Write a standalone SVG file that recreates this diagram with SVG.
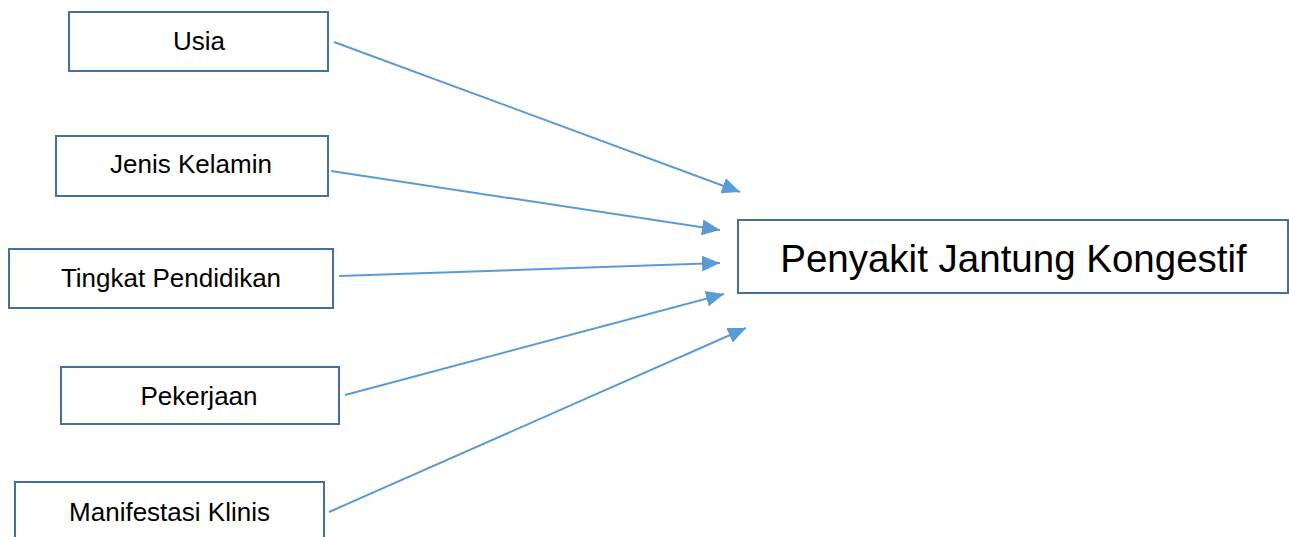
<svg xmlns="http://www.w3.org/2000/svg" width="1289" height="537" viewBox="0 0 1289 537">
<style>
.box{fill:#fff;stroke:#41719C;stroke-width:2}
.lbl{font-family:"Liberation Sans",Arial,sans-serif;font-size:26px;fill:#000;text-anchor:middle}
.big{font-family:"Liberation Sans",Arial,sans-serif;font-size:38.5px;fill:#000;text-anchor:middle}
.con{stroke:#5B9BD5;stroke-width:2;fill:none;marker-end:url(#ah)}
</style>
<defs>
<marker id="ah" markerUnits="userSpaceOnUse" markerWidth="20" markerHeight="16" refX="18" refY="8" orient="auto">
<path d="M0,0 L18,8 L0,16 Z" fill="#5B9BD5"/>
</marker>
</defs>
<rect width="1289" height="537" fill="#fff"/>
<g id="connectors">
<line class="con" x1="334" y1="42" x2="740" y2="192"/>
<line class="con" x1="331" y1="171" x2="720" y2="230"/>
<line class="con" x1="339" y1="276" x2="720" y2="263"/>
<line class="con" x1="345" y1="395" x2="724" y2="294"/>
<line class="con" x1="329" y1="512" x2="746" y2="328"/>
</g>
<g id="usia"><rect class="box" x="69" y="12" width="259" height="59"/><text class="lbl" x="199" y="50">Usia</text></g>
<g id="jenis-kelamin"><rect class="box" x="56" y="136" width="272" height="60"/><text class="lbl" x="191" y="173">Jenis Kelamin</text></g>
<g id="tingkat-pendidikan"><rect class="box" x="9" y="249" width="324" height="59"/><text class="lbl" x="171" y="287">Tingkat Pendidikan</text></g>
<g id="pekerjaan"><rect class="box" x="61" y="367" width="278" height="57"/><text class="lbl" x="199" y="405">Pekerjaan</text></g>
<g id="manifestasi-klinis"><rect class="box" x="15" y="482" width="309" height="70"/><text class="lbl" x="169.5" y="521">Manifestasi Klinis</text></g>
<g id="penyakit-jantung-kongestif"><rect class="box" x="738" y="220" width="550" height="73"/><text class="big" x="1013.5" y="272">Penyakit Jantung Kongestif</text></g>
</svg>
